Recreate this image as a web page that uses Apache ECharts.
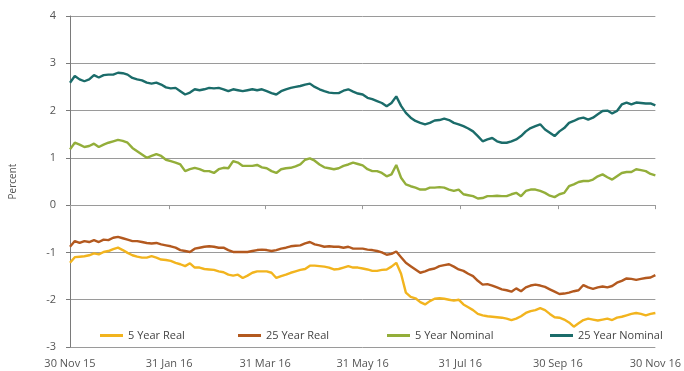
<!DOCTYPE html>
<html>
<head>
<meta charset="utf-8">
<script src="https://cdn.jsdelivr.net/npm/echarts@6/dist/echarts.min.js"></script>
<style>
  html, body { margin: 0; padding: 0; background: #ffffff; }
  #chart { width: 684px; height: 371px; }
</style>
</head>
<body>
<div id="chart"></div>
<script>
// Observation grid: one reading every 3 days from 30 Nov 2015 to 30 Nov 2016
const startDate = '2015-11-30';
const stepDays = 3;

// Axis labels
const tickDates = ['2015-11-30', '2016-01-31', '2016-03-31', '2016-05-31', '2016-07-31', '2016-09-30', '2016-11-30'];
const tickLabels = ['30 Nov 15', '31 Jan 16', '31 Mar 16', '31 May 16', '31 Jul 16', '30 Sep 16', '30 Nov 16'];

const seriesNames = ['5 Year Real', '25 Year Real', '5 Year Nominal', '25 Year Nominal'];
const seriesColors = ['#f2b41e', '#b3591f', '#93ae3a', '#1b6c6a'];

// Yields, percent
const fiveYearReal = [
  -1.22, -1.10, -1.09, -1.08, -1.06, -1.02, -1.04, -0.99, -0.97, -0.93, -0.90,
  -0.95,
  -1.01, -1.06, -1.09, -1.11, -1.11, -1.08, -1.11, -1.15, -1.16, -1.18, -1.22, -1.25, -1.29, -1.23, -1.32, -1.32, -1.35, -1.36, -1.37, -1.40, -1.42, -1.47, -1.49, -1.47, -1.54, -1.49, -1.43, -1.40, -1.40, -1.40, -1.43, -1.54, -1.50, -1.47, -1.43,
  -1.40,
  -1.37, -1.35, -1.28, -1.28, -1.29, -1.30, -1.32, -1.36, -1.35, -1.32, -1.29, -1.32, -1.32, -1.34, -1.36, -1.39, -1.39, -1.37, -1.36, -1.30, -1.22, -1.45, -1.85, -1.94, -1.97, -2.05, -2.10, -2.03, -1.98, -1.97, -1.98, -2.00, -2.02, -2.00, -2.10,
  -2.16,
  -2.22, -2.30, -2.33, -2.35, -2.36, -2.37, -2.38, -2.40, -2.43, -2.40, -2.35, -2.28, -2.24, -2.22, -2.18, -2.22, -2.30, -2.37, -2.38, -2.42, -2.48, -2.57, -2.50, -2.43, -2.40, -2.42, -2.44, -2.42, -2.40, -2.43, -2.38, -2.36, -2.33, -2.30, -2.28,
  -2.30,
  -2.33, -2.30, -2.28
];

const twentyFiveYearReal = [
  -0.88, -0.76, -0.80, -0.76, -0.78, -0.74, -0.78, -0.73, -0.74, -0.69, -0.67,
  -0.70,
  -0.73, -0.76, -0.76, -0.78, -0.80, -0.81, -0.80, -0.83, -0.85, -0.87, -0.90, -0.95, -0.97, -0.99, -0.92, -0.90, -0.88, -0.87, -0.88, -0.90, -0.90, -0.95, -0.99, -0.99, -0.99, -0.99, -0.97, -0.95, -0.94, -0.95, -0.97, -0.95, -0.92, -0.90, -0.87,
  -0.86,
  -0.85, -0.81, -0.78, -0.83, -0.85, -0.88, -0.87, -0.88, -0.88, -0.90, -0.88, -0.92, -0.92, -0.92, -0.94, -0.95, -0.97, -1.00, -1.05, -1.03, -0.98, -1.10, -1.22, -1.29, -1.36, -1.43, -1.40, -1.36, -1.34, -1.29, -1.27, -1.25, -1.30, -1.36, -1.39,
  -1.45,
  -1.50, -1.60, -1.68, -1.67, -1.70, -1.74, -1.78, -1.80, -1.83, -1.76, -1.82, -1.74, -1.70, -1.68, -1.70, -1.73, -1.78, -1.83, -1.88, -1.87, -1.85, -1.82, -1.80, -1.69, -1.74, -1.77, -1.74, -1.72, -1.74, -1.71, -1.64, -1.60, -1.55, -1.56, -1.58,
  -1.56,
  -1.54, -1.53, -1.48
];

const fiveYearNominal = [
  1.18, 1.32, 1.28, 1.23, 1.25, 1.30, 1.23, 1.28, 1.32, 1.35, 1.38,
  1.36,
  1.32, 1.21, 1.14, 1.07, 1.00, 1.04, 1.08, 1.04, 0.96, 0.93, 0.90, 0.86, 0.72, 0.76, 0.79, 0.76, 0.72, 0.72, 0.68, 0.76, 0.79, 0.78, 0.93, 0.90, 0.83, 0.83, 0.83, 0.85, 0.80, 0.78, 0.72, 0.68, 0.76, 0.78, 0.79,
  0.82,
  0.86, 0.96, 0.99, 0.94, 0.86, 0.80, 0.78, 0.76, 0.78, 0.83, 0.86, 0.90, 0.87, 0.84, 0.76, 0.72, 0.72, 0.68, 0.61, 0.65, 0.85, 0.58, 0.44, 0.40, 0.37, 0.33, 0.33, 0.37, 0.37, 0.38, 0.37, 0.33, 0.30, 0.33, 0.23,
  0.21,
  0.19, 0.14, 0.15, 0.19, 0.19, 0.20, 0.19, 0.19, 0.23, 0.26, 0.19, 0.30, 0.33, 0.33, 0.30, 0.26, 0.20, 0.17, 0.23, 0.26, 0.40, 0.44, 0.49, 0.51, 0.51, 0.54, 0.61, 0.65, 0.59, 0.54, 0.61, 0.68, 0.70, 0.70, 0.76,
  0.74,
  0.72, 0.66, 0.63
];

const twentyFiveYearNominal = [
  2.59, 2.73, 2.66, 2.62, 2.66, 2.75, 2.70, 2.75, 2.76, 2.76, 2.80,
  2.79,
  2.76, 2.69, 2.66, 2.64, 2.59, 2.57, 2.59, 2.55, 2.49, 2.47, 2.48, 2.41, 2.34, 2.38, 2.45, 2.43, 2.45, 2.48, 2.47, 2.48, 2.45, 2.41, 2.45, 2.43, 2.41, 2.43, 2.45, 2.43, 2.45, 2.41, 2.37, 2.34, 2.41, 2.45, 2.48,
  2.50,
  2.52, 2.55, 2.57, 2.50, 2.45, 2.41, 2.38, 2.37, 2.37, 2.42, 2.45, 2.40, 2.36, 2.34, 2.27, 2.24, 2.20, 2.16, 2.09, 2.16, 2.30, 2.10, 1.95, 1.85, 1.78, 1.74, 1.71, 1.74, 1.79, 1.80, 1.83, 1.80, 1.74, 1.71, 1.67,
  1.62,
  1.56, 1.46, 1.35, 1.39, 1.42, 1.35, 1.32, 1.32, 1.35, 1.39, 1.46, 1.56, 1.63, 1.67, 1.71, 1.60, 1.53, 1.46, 1.56, 1.63, 1.74, 1.78, 1.83, 1.85, 1.81, 1.85, 1.92, 1.99, 2.00, 1.94, 1.99, 2.13, 2.17, 2.13, 2.17,
  2.16,
  2.15, 2.15, 2.11
];

const seriesValues = [fiveYearReal, twentyFiveYearReal, fiveYearNominal, twentyFiveYearNominal];

// The x axis counts days since the start date
const DAY = 24 * 3600 * 1000;
function toTime(s) {
  const p = s.split('-').map(Number);
  return Date.UTC(p[0], p[1] - 1, p[2]);
}
const t0 = toTime(startDate);
const tickDays = tickDates.map(d => Math.round((toTime(d) - t0) / DAY));

function labelFor(v) {
  const i = tickDays.indexOf(Math.round(v));
  return i >= 0 ? tickLabels[i] : '';
}

const font = '"Open Sans", "Liberation Sans", sans-serif';
const gridGrey = '#9a9a9a';
const textGrey = '#555555';

const series = seriesNames.map((name, si) => ({
  name: name,
  type: 'line',
  xAxisIndex: 0,
  yAxisIndex: 0,
  showSymbol: false,
  symbol: 'none',
  data: seriesValues[si].map((v, i) => [i * stepDays, v]),
  itemStyle: { color: seriesColors[si] },
  lineStyle: { color: seriesColors[si], width: 2.4 },
  emphasis: { disabled: true },
  z: 2 + si
}));

const legendLefts = [100, 238, 387, 550];
const legends = seriesNames.map((name, si) => ({
  data: [name],
  left: legendLefts[si],
  top: 330,
  icon: 'rect',
  itemWidth: 23,
  itemHeight: 3,
  padding: 0,
  selectedMode: false,
  textStyle: { fontFamily: font, fontSize: 11, color: '#444444' }
}));

const chart = echarts.init(document.getElementById('chart'), null, { renderer: 'canvas' });
chart.setOption({
  animation: false,
  backgroundColor: '#ffffff',
  grid: { left: 64, right: 27, top: 16, bottom: 24, containLabel: false },
  legend: legends,
  xAxis: [
    {
      type: 'value',
      position: 'bottom',
      min: 0,
      max: tickDays[tickDays.length - 1],
      axisLine: { show: false, onZero: false },
      axisTick: { show: false },
      splitLine: { show: false },
      axisLabel: {
        customValues: tickDays,
        formatter: labelFor,
        margin: 11,
        fontFamily: font,
        fontSize: 11,
        color: textGrey,
        hideOverlap: false,
        showMinLabel: true,
        showMaxLabel: true
      }
    },
    {
      type: 'value',
      position: 'top',
      min: 0,
      max: tickDays[tickDays.length - 1],
      axisLine: { show: true, onZero: true, lineStyle: { color: gridGrey, width: 1 } },
      axisTick: { show: true, inside: true, length: 4, customValues: tickDays, lineStyle: { color: gridGrey, width: 1 } },
      axisLabel: { show: false },
      splitLine: { show: false }
    }
  ],
  yAxis: {
    type: 'value',
    min: -3,
    max: 4,
    interval: 1,
    name: 'Percent',
    nameLocation: 'middle',
    nameGap: 52,
    nameTextStyle: { fontFamily: font, fontSize: 10, color: textGrey },
    axisLine: { show: true, lineStyle: { color: '#7a7a7a', width: 1 } },
    axisTick: { show: true, length: 4, lineStyle: { color: '#7a7a7a' } },
    axisLabel: { margin: 14, fontFamily: font, fontSize: 11, color: textGrey },
    splitLine: { show: true, lineStyle: { color: gridGrey, width: 1 } }
  },
  series: series
});
</script>
</body>
</html>
